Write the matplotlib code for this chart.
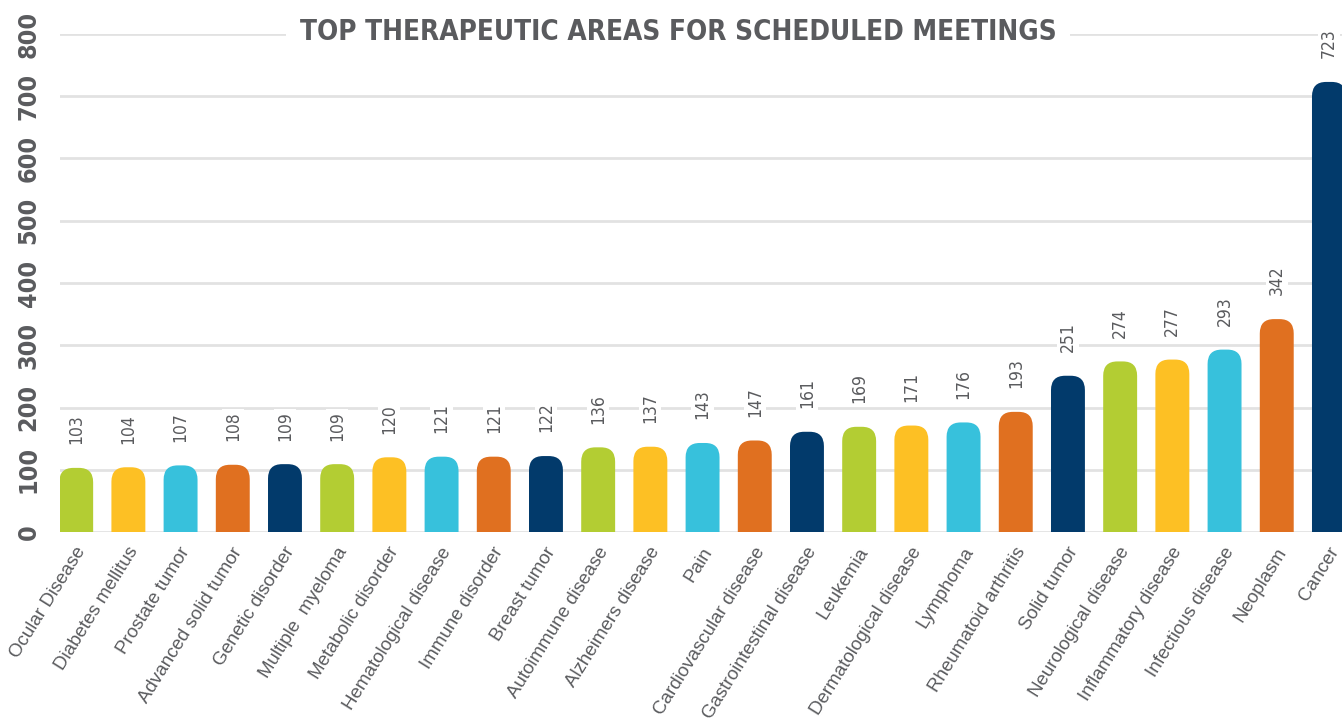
import matplotlib.pyplot as plt
import matplotlib.transforms as mtransforms
from matplotlib.patches import FancyBboxPatch

# data
areas = [
    "Ocular Disease", "Diabetes mellitus", "Prostate tumor", "Advanced solid tumor",
    "Genetic disorder", "Multiple  myeloma", "Metabolic disorder", "Hematological disease",
    "Immune disorder", "Breast tumor", "Autoimmune disease", "Alzheimers disease",
    "Pain", "Cardiovascular disease", "Gastrointestinal disease", "Leukemia",
    "Dermatological disease", "Lymphoma", "Rheumatoid arthritis", "Solid tumor",
    "Neurological disease", "Inflammatory disease", "Infectious disease", "Neoplasm",
    "Cancer",
]
meetings = [103, 104, 107, 108, 109, 109, 120, 121, 121, 122, 136, 137, 143, 147,
            161, 169, 171, 176, 193, 251, 274, 277, 293, 342, 723]
palette = ["#b3cd33", "#fdc024", "#37c1dc", "#e07020", "#023a6b"]
y_ticks = [0, 100, 200, 300, 400, 500, 600, 700, 800]

grey = "#5a5b5e"
cond = "DejaVu Sans"

fig = plt.figure(figsize=(13.42, 7.25), dpi=100)
ax = fig.add_axes([60 / 1342, 193 / 725, 1 - 60 / 1342, 498 / 725])

ax.set_xlim(-0.31, 24.25)
ax.set_ylim(0, 800)

for y in y_ticks:
    ax.axhline(y, color="#e2e2e2", lw=2, zorder=0)

width = 0.65
for i, v in enumerate(meetings):
    c = palette[i % len(palette)]
    # start below zero so only the top corners show rounded (bottom is clipped)
    ax.add_patch(FancyBboxPatch((i - width / 2, -50), width, v + 50,
                                boxstyle="round,pad=0,rounding_size=0.27",
                                mutation_aspect=85, fc=c, ec="none", zorder=2))
    ax.annotate(str(v), (i, v), xytext=(0, 17), textcoords="offset points",
                rotation=90, ha="center", va="bottom", fontsize=12.5,
                family=cond, stretch="condensed", color=grey,
                bbox=dict(fc="white", ec="none", pad=1.5), zorder=3)

ax.set_yticks(y_ticks)
ax.set_yticklabels([str(t) for t in y_ticks], rotation=90, va="center",
                   fontsize=18, weight="bold", family=cond, stretch="condensed",
                   color=grey)
ax.tick_params(axis="y", length=0, pad=14)

ax.set_xticks(range(len(areas)))
ax.set_xticklabels(areas, rotation=58, ha="right", va="center",
                   rotation_mode="anchor", fontsize=13.5, family="Liberation Sans",
                   color=grey)
ax.tick_params(axis="x", length=0, pad=12)
offset = mtransforms.ScaledTranslation(6 / 100, 0, fig.dpi_scale_trans)
for lbl in ax.get_xticklabels():
    lbl.set_transform(lbl.get_transform() + offset)

for s in ax.spines.values():
    s.set_visible(False)

fig.text(678 / 1342, 1 - 32 / 725, "TOP THERAPEUTIC AREAS FOR SCHEDULED MEETINGS",
         ha="center", va="center", fontsize=20, weight="bold", family=cond,
         stretch="condensed", color=grey,
         bbox=dict(fc="white", ec="none", pad=10), zorder=5)

fig.savefig("out.png", dpi=100)
